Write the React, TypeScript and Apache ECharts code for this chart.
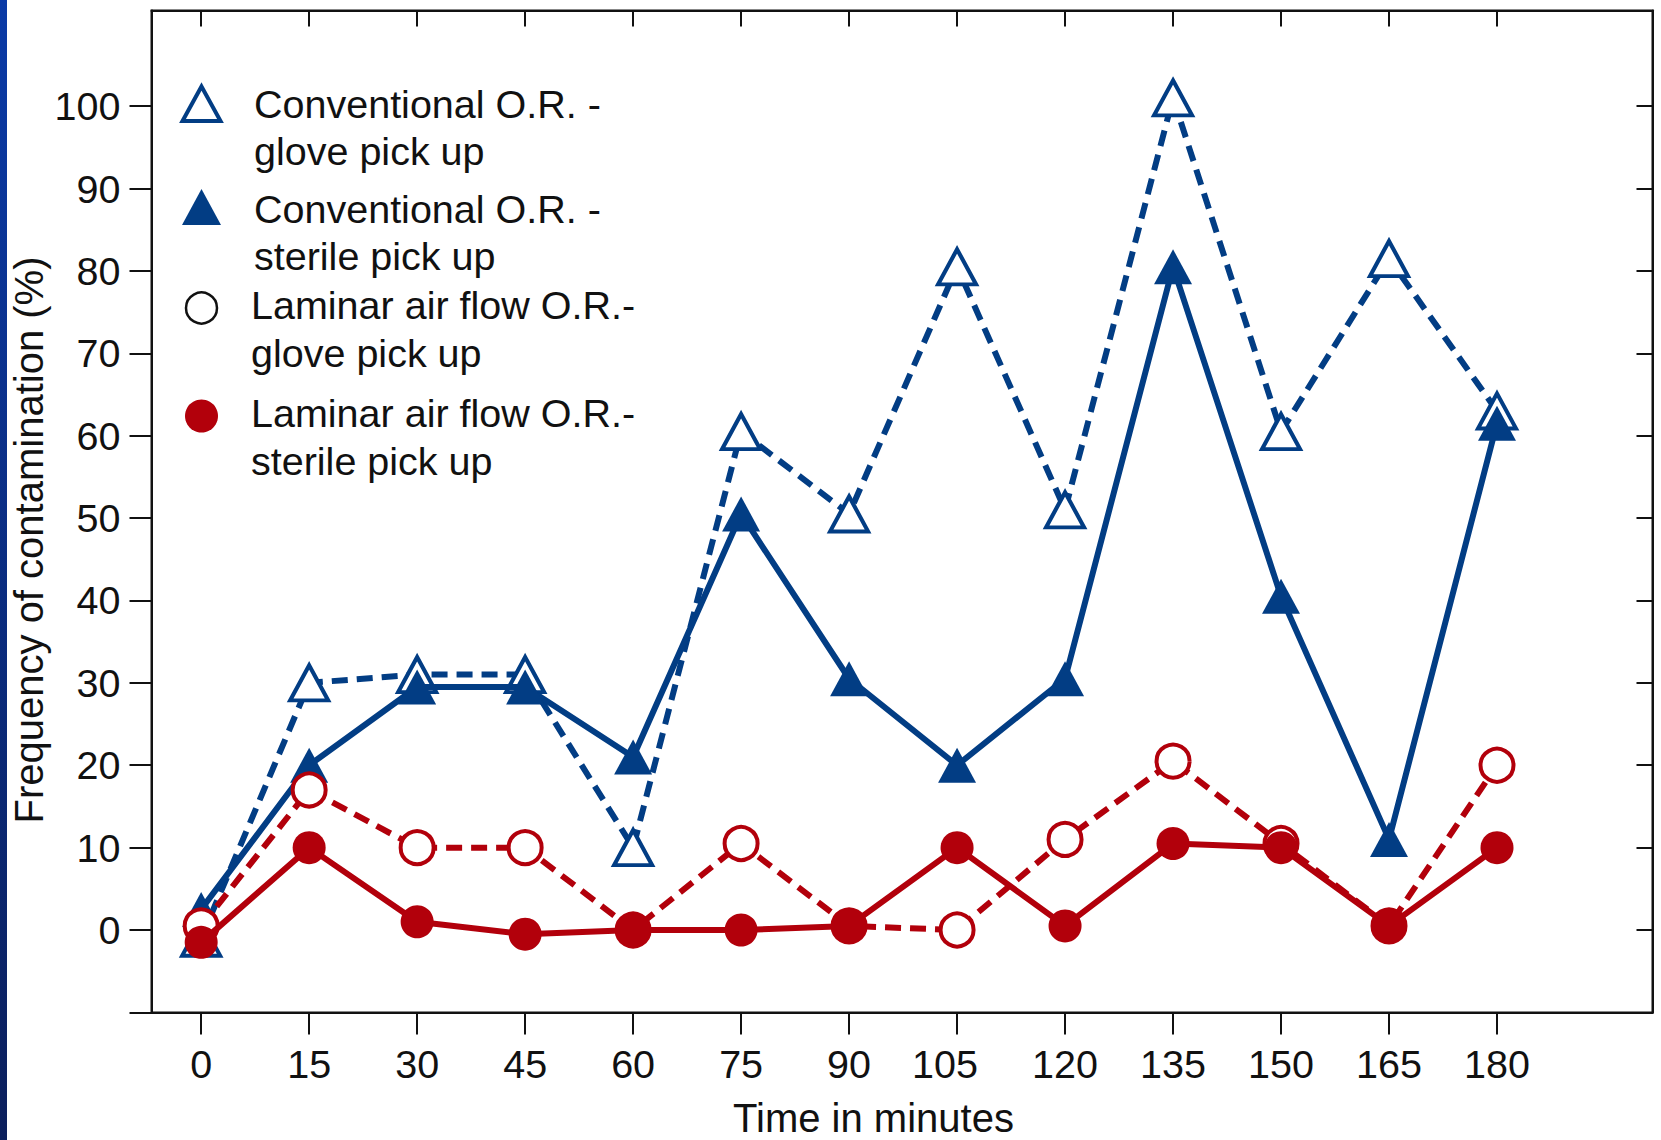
import React, { useEffect, useRef } from "react";
import * as echarts from "echarts";

const times = [0, 15, 30, 45, 60, 75, 90, 105, 120, 135, 150, 165, 180];
const yTicks = [-10, 0, 10, 20, 30, 40, 50, 60, 70, 80, 90, 100];
const yLabels = [0, 10, 20, 30, 40, 50, 60, 70, 80, 90, 100];
const convGlove = [-1, 30, 31, 31, 10, 60.5, 50.5, 80.5, 51, 101, 60.5, 81.5, 63];
const convSterile = [2.5, 20, 29.5, 29.5, 21, 50.5, 30.5, 20, 30.5, 80.5, 40.5, 11, 61.5];
const lafGlove = [0.5, 17, 10, 10, 0, 10.5, 0.5, 0, 11, 20.5, 10.5, 0.5, 20];
const lafSterile = [-1.5, 10, 1, -0.5, 0, 0, 0.5, 10, 0.5, 10.5, 10, 0.5, 10];

const legendNames = [
  ["Conventional O.R. -", "glove pick up"],
  ["Conventional O.R. -", "sterile pick up"],
  ["Laminar air flow O.R.-", "glove pick up"],
  ["Laminar air flow O.R.-", "sterile pick up"],
];
const xTitle = "Time in minutes";
const yTitle = "Frequency of contamination (%)";

const BLUE = "#023d84";
const RED = "#b2000b";
const INK = "#111111";
const FONT = '"Liberation Sans", Arial, sans-serif';
const FS = 39.5;

export default function App() {
  const ref = useRef<HTMLDivElement>(null);
  useEffect(() => {
    if (!ref.current) return;
    const chart = echarts.init(ref.current, null, { renderer: "svg" });
    const pts = (arr: number[]) => times.map((t, i) => [t, arr[i]]);
    const axisLine = { show: true, onZero: false, lineStyle: { color: INK, width: 2 } };
    const tri: [number, number] = [38, 35];
    const dash = [16, 9];

    const txt = (x: number, y: number, s: string, size = FS) => ({
      type: "text",
      x,
      y,
      silent: true,
      style: {
        text: s,
        fontSize: size,
        fontFamily: FONT,
        fill: INK,
        align: "left",
        textAlign: "left",
        verticalAlign: "middle",
        textVerticalAlign: "middle",
      },
    });

    const option: any = {
      animation: false,
      backgroundColor: "#ffffff",
      grid: {
        left: 151.5,
        top: 10.6,
        right: 8.5,
        bottom: 127.6,
        containLabel: false,
        outerBoundsMode: "none",
        show: true,
        borderColor: INK,
        borderWidth: 2,
        backgroundColor: "transparent",
      },
      xAxis: [
        {
          type: "value",
          min: -6.9,
          max: 201.6,
          position: "bottom",
          axisLine,
          splitLine: { show: false },
          axisTick: {
            show: true,
            inside: false,
            length: 22,
            customValues: times,
            lineStyle: { color: INK, width: 2 },
          },
          axisLabel: {
            show: true,
            customValues: times,
            margin: 32,
            color: INK,
            fontSize: FS,
            fontFamily: FONT,
            formatter: (v: number) => (v === 105 ? "{s|105}" : String(v)),
            rich: {
              s: { fontSize: FS, fontFamily: FONT, color: INK, padding: [0, 24, 0, 0] },
            },
          },
        },
        {
          type: "value",
          min: -6.9,
          max: 201.6,
          position: "top",
          axisLine,
          splitLine: { show: false },
          axisTick: {
            show: true,
            inside: true,
            length: 16,
            customValues: times,
            lineStyle: { color: INK, width: 2 },
          },
          axisLabel: { show: false },
        },
      ],
      yAxis: [
        {
          type: "value",
          min: -10,
          max: 111.6,
          position: "left",
          axisLine,
          splitLine: { show: false },
          axisTick: {
            show: true,
            inside: false,
            length: 22,
            customValues: yTicks,
            lineStyle: { color: INK, width: 2 },
          },
          axisLabel: {
            show: true,
            customValues: yLabels,
            margin: 31,
            color: INK,
            fontSize: FS,
            fontFamily: FONT,
          },
        },
        {
          type: "value",
          min: -10,
          max: 111.6,
          position: "right",
          axisLine,
          splitLine: { show: false },
          axisTick: {
            show: true,
            inside: true,
            length: 16,
            customValues: yLabels,
            lineStyle: { color: INK, width: 2 },
          },
          axisLabel: { show: false },
        },
      ],
      series: [
        {
          name: "conv-glove",
          type: "line",
          data: pts(convGlove),
          symbol: "triangle",
          symbolSize: tri,
          showAllSymbol: true,
          silent: true,
          itemStyle: { color: "#ffffff", borderColor: BLUE, borderWidth: 4 },
          lineStyle: { color: BLUE, width: 6, type: dash },
          emphasis: { disabled: true },
          z: 2,
        },
        {
          name: "conv-sterile",
          type: "line",
          data: pts(convSterile),
          symbol: "triangle",
          symbolSize: tri,
          showAllSymbol: true,
          silent: true,
          itemStyle: { color: BLUE, borderWidth: 0 },
          lineStyle: { color: BLUE, width: 6, type: "solid" },
          emphasis: { disabled: true },
          z: 3,
        },
        {
          name: "laf-glove",
          type: "line",
          data: pts(lafGlove),
          symbol: "circle",
          symbolSize: 33,
          showAllSymbol: true,
          silent: true,
          itemStyle: { color: "#ffffff", borderColor: RED, borderWidth: 4 },
          lineStyle: { color: RED, width: 6, type: dash },
          emphasis: { disabled: true },
          z: 4,
        },
        {
          name: "laf-sterile",
          type: "line",
          data: pts(lafSterile),
          symbol: "circle",
          symbolSize: 33,
          showAllSymbol: true,
          silent: true,
          itemStyle: { color: RED, borderWidth: 0 },
          lineStyle: { color: RED, width: 6, type: "solid" },
          emphasis: { disabled: true },
          z: 5,
        },
      ],
      graphic: [
        {
          type: "rect",
          silent: true,
          shape: { x: 0, y: 0, width: 7, height: 1140 },
          style: {
            fill: new echarts.graphic.LinearGradient(0, 0, 0, 1, [
              { offset: 0, color: "#0a3aa6" },
              { offset: 1, color: "#0b1f5c" },
            ]),
          },
        },
        {
          type: "polygon",
          silent: true,
          shape: { points: [[201.5, 86.5], [220.5, 121], [182.5, 121]] },
          style: { fill: "#ffffff", stroke: BLUE, lineWidth: 4 },
        },
        {
          type: "polygon",
          silent: true,
          shape: { points: [[201.5, 189], [221, 225], [182, 225]] },
          style: { fill: BLUE },
        },
        {
          type: "circle",
          silent: true,
          shape: { cx: 201.5, cy: 308, r: 15.5 },
          style: { fill: "#ffffff", stroke: INK, lineWidth: 2.5 },
        },
        {
          type: "circle",
          silent: true,
          shape: { cx: 201.5, cy: 416, r: 16.5 },
          style: { fill: RED },
        },
        txt(254, 103.5, legendNames[0][0]),
        txt(254, 151, legendNames[0][1]),
        txt(254, 208.5, legendNames[1][0]),
        txt(254, 256, legendNames[1][1]),
        txt(251, 305, legendNames[2][0]),
        txt(251, 352.5, legendNames[2][1]),
        txt(251, 413, legendNames[3][0]),
        txt(251, 460.5, legendNames[3][1]),
        {
          type: "text",
          x: 873.5,
          y: 1118,
          silent: true,
          style: {
            text: xTitle,
            fontSize: 40,
            fontFamily: FONT,
            fill: INK,
            align: "center",
            textAlign: "center",
            verticalAlign: "middle",
            textVerticalAlign: "middle",
          },
        },
        {
          type: "text",
          x: 29,
          y: 540,
          rotation: Math.PI / 2,
          silent: true,
          style: {
            text: yTitle,
            fontSize: 40,
            fontFamily: FONT,
            fill: INK,
            align: "center",
            textAlign: "center",
            verticalAlign: "middle",
            textVerticalAlign: "middle",
          },
        },
      ],
    };
    chart.setOption(option);
    return () => chart.dispose();
  }, []);
  return (
    <div
      ref={ref}
      style={{ position: "absolute", left: 0, top: 0, width: 1661, height: 1140, background: "#fff" }}
    />
  );
}
